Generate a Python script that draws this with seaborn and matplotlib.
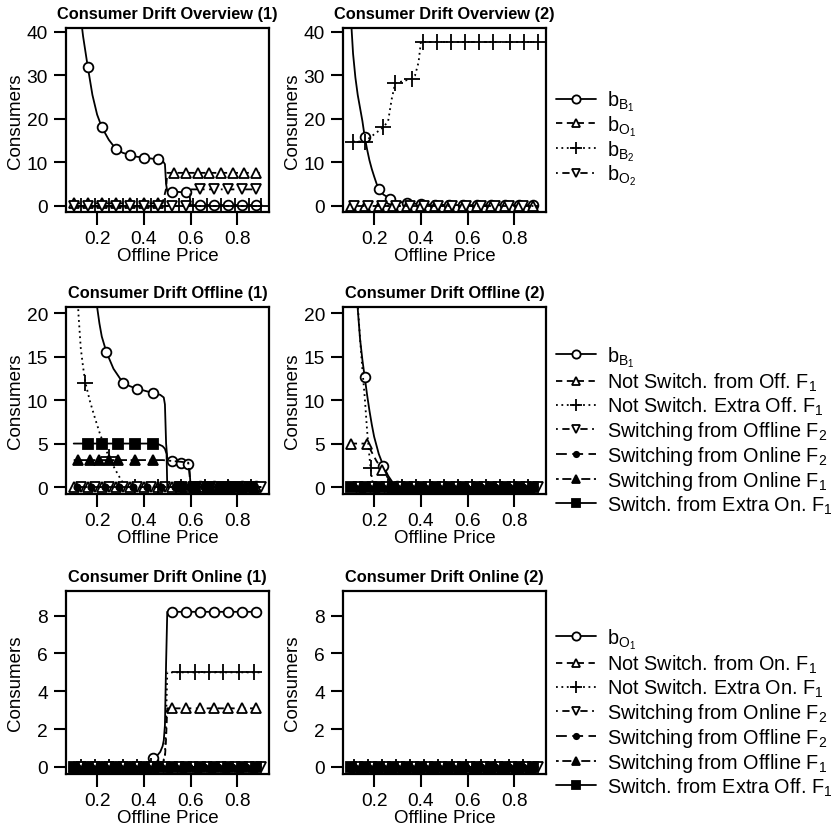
import matplotlib
matplotlib.use('Agg')
import matplotlib.pyplot as plt
from matplotlib.lines import Line2D
import seaborn as sns

sns.set_theme(style='ticks')
plt.rcParams['font.family'] = ['Liberation Sans', 'DejaVu Sans']
plt.rcParams['mathtext.fontset'] = 'custom'
plt.rcParams['mathtext.rm'] = 'Liberation Sans'
plt.rcParams['mathtext.it'] = 'Liberation Sans:italic'
plt.rcParams['mathtext.bf'] = 'Liberation Sans:bold'
plt.rcParams['mathtext.default'] = 'regular'
plt.rcParams['text.color'] = 'black'
plt.rcParams['axes.labelcolor'] = 'black'

# ---------------- data ----------------
X_TICKS = [0.2, 0.4, 0.6, 0.8]
X_TICK_LABELS = ['0.2', '0.4', '0.6', '0.8']
Y_TICKS_OV = [0, 10, 20, 30, 40]
Y_TICKS_OF = [0, 5, 10, 15, 20]
Y_TICKS_ON = [0, 2, 4, 6, 8]

TITLES = ['Consumer Drift Overview (1)', 'Consumer Drift Overview (2)',
          'Consumer Drift Offline (1)', 'Consumer Drift Offline (2)',
          'Consumer Drift Online (1)', 'Consumer Drift Online (2)']

LEG_OV = [r'$b_{B_1}$', r'$b_{O_1}$', r'$b_{B_2}$', r'$b_{O_2}$']
LEG_OF = [r'$b_{B_1}$', r'Not Switch. from Off. F$_1$', r'Not Switch. Extra Off. F$_1$',
          r'Switching from Offline F$_2$', r'Switching from Online F$_2$',
          r'Switching from Online F$_1$', r'Switch. from Extra On. F$_1$']
LEG_ON = [r'$b_{O_1}$', r'Not Switch. from On. F$_1$', r'Not Switch. Extra On. F$_1$',
          r'Switching from Online F$_2$', r'Switching from Offline F$_2$',
          r'Switching from Offline F$_1$', r'Switch. from Extra Off. F$_1$']

# zero-level series grids
ZX_A = [0.10, 0.16, 0.22, 0.28, 0.34, 0.40, 0.46, 0.52, 0.58, 0.64, 0.70, 0.76, 0.82, 0.88, 0.90]
ZX_B = [0.10, 0.13, 0.19, 0.25, 0.31, 0.37, 0.43, 0.49, 0.55, 0.61, 0.67, 0.73, 0.79, 0.85, 0.90]
ZX_C = [0.10, 0.115, 0.175, 0.235, 0.295, 0.355, 0.415, 0.475, 0.535, 0.595, 0.655, 0.715, 0.775, 0.835, 0.90]
ZX_D = [0.10, 0.145, 0.205, 0.265, 0.325, 0.385, 0.445, 0.505, 0.565, 0.625, 0.685, 0.745, 0.805, 0.865, 0.90]
ZY = [0.0, 0.0, 0.0, 0.0, 0.0, 0.0, 0.0, 0.0, 0.0, 0.0, 0.0, 0.0, 0.0, 0.0, 0.0]
ZM_A = [0.10, 0.16, 0.22, 0.28, 0.34, 0.40, 0.46, 0.52, 0.58, 0.64, 0.70, 0.76, 0.82, 0.88]
ZM_B = [0.13, 0.19, 0.25, 0.31, 0.37, 0.43, 0.49, 0.55, 0.61, 0.67, 0.73, 0.79, 0.85, 0.90]
ZM_C = [0.115, 0.175, 0.235, 0.295, 0.355, 0.415, 0.475, 0.535, 0.595, 0.655, 0.715, 0.775, 0.835]
ZM_D = [0.145, 0.205, 0.265, 0.325, 0.385, 0.445, 0.505, 0.565, 0.625, 0.685, 0.745, 0.805, 0.865]

# Overview (1)
OV1_BB1_X = [0.10, 0.12, 0.14, 0.16, 0.18, 0.20, 0.22, 0.25, 0.28, 0.31, 0.34, 0.37, 0.40, 0.43, 0.46,
             0.48, 0.49, 0.495, 0.50, 0.52, 0.55, 0.58, 0.595, 0.60, 0.64, 0.70, 0.76, 0.82, 0.88, 0.90]
OV1_BB1_Y = [62, 48, 39, 32, 25.5, 21, 18.1, 15.2, 13.1, 12.2, 11.7, 11.3, 11.1, 10.9, 10.7,
             10.4, 9.6, 5.0, 3.4, 3.3, 3.2, 3.1, 2.8, 0.2, 0.2, 0.2, 0.2, 0.2, 0.2, 0.2]
OV1_BB1_M = [0.16, 0.22, 0.28, 0.34, 0.40, 0.46, 0.52, 0.58, 0.64, 0.70, 0.76, 0.82, 0.88]

OV1_BO1_X = [0.10, 0.16, 0.22, 0.28, 0.34, 0.40, 0.46, 0.48, 0.495, 0.50, 0.53, 0.58, 0.63, 0.68,
             0.73, 0.78, 0.83, 0.88, 0.90]
OV1_BO1_Y = [0.6, 0.6, 0.6, 0.6, 0.6, 0.6, 0.6, 0.6, 4.0, 7.6, 7.6, 7.6, 7.6, 7.6,
             7.6, 7.6, 7.6, 7.6, 7.6]
OV1_BO1_M = [0.10, 0.16, 0.22, 0.28, 0.34, 0.40, 0.46, 0.53, 0.58, 0.63, 0.68, 0.73, 0.78, 0.83, 0.88]

OV1_BO2_X = [0.10, 0.16, 0.22, 0.28, 0.34, 0.40, 0.46, 0.52, 0.58, 0.595, 0.60, 0.64, 0.70, 0.76,
             0.82, 0.88, 0.89]
OV1_BO2_Y = [0, 0, 0, 0, 0, 0, 0, 0, 0, 0, 3.8, 3.8, 3.8, 3.8, 3.8, 3.8, 3.8]
OV1_BO2_M = [0.10, 0.16, 0.22, 0.28, 0.34, 0.40, 0.46, 0.52, 0.58, 0.64, 0.70, 0.76, 0.82, 0.88]

# Overview (2)
OV2_BB1_X = [0.10, 0.11, 0.12, 0.13, 0.14, 0.15, 0.16, 0.17, 0.18, 0.19, 0.20, 0.21, 0.22, 0.24,
             0.27, 0.30, 0.34, 0.40, 0.46, 0.52, 0.58, 0.64, 0.70, 0.76, 0.82, 0.88, 0.90]
OV2_BB1_Y = [44, 35, 29.5, 25.5, 22.5, 19.5, 15.8, 13, 10.5, 8.5, 6.8, 5.2, 3.8, 2.6,
             1.6, 1.0, 0.6, 0.4, 0.3, 0.2, 0.2, 0.2, 0.2, 0.2, 0.2, 0.2, 0.2]
OV2_BB1_M = [0.16, 0.22, 0.27, 0.34, 0.40, 0.46, 0.52, 0.58, 0.64, 0.70, 0.76, 0.82, 0.88]

OV2_BB2_X = [0.11, 0.16, 0.24, 0.26, 0.275, 0.29, 0.36, 0.375, 0.39, 0.40, 0.41, 0.47, 0.53, 0.59,
             0.65, 0.71, 0.78, 0.84, 0.90]
OV2_BB2_Y = [14.8, 14.8, 18.1, 19.5, 24.5, 28.2, 29.2, 30.0, 33.0, 37.7, 37.7, 37.7, 37.7, 37.7,
             37.7, 37.7, 37.7, 37.7, 37.7]
OV2_BB2_M = [0.11, 0.16, 0.24, 0.29, 0.36, 0.41, 0.47, 0.53, 0.59, 0.65, 0.71, 0.78, 0.84, 0.90]

# Offline (1)
OF1_BB1_X = [0.10, 0.14, 0.17, 0.19, 0.20, 0.21, 0.22, 0.24, 0.27, 0.31, 0.34, 0.37, 0.40, 0.44,
             0.47, 0.485, 0.49, 0.495, 0.50, 0.52, 0.56, 0.59, 0.595, 0.60, 0.64, 0.70, 0.76,
             0.82, 0.88, 0.90]
OF1_BB1_Y = [62, 39, 28, 23, 20.7, 18.8, 17.3, 15.5, 13.6, 12.0, 11.6, 11.3, 11.1, 10.8,
             10.6, 10.3, 9.5, 5.0, 3.3, 3.0, 2.8, 2.6, 2.0, 0.1, 0.1, 0.1, 0.1,
             0.1, 0.1, 0.1]
OF1_BB1_M = [0.24, 0.31, 0.37, 0.44, 0.52, 0.56, 0.59, 0.64, 0.70, 0.76, 0.82, 0.88]

OF1_NSE_X = [0.10, 0.11, 0.12, 0.13, 0.14, 0.15, 0.17, 0.19, 0.21, 0.23, 0.25, 0.27, 0.29, 0.31,
             0.33, 0.36, 0.46, 0.56, 0.66, 0.76, 0.86, 0.90]
OF1_NSE_Y = [36, 27, 20, 16, 13.8, 12, 9.8, 8, 6.3, 4.8, 3.5, 2.4, 1.4, 0.5,
             0.05, 0, 0, 0, 0, 0, 0, 0]
OF1_NSE_M = [0.15, 0.25, 0.36, 0.46, 0.56, 0.66, 0.76, 0.86]

OF1_SON1_X = [0.10, 0.12, 0.17, 0.21, 0.25, 0.29, 0.36, 0.44, 0.48, 0.52, 0.56, 0.59, 0.595, 0.60,
              0.62, 0.67, 0.72, 0.77, 0.82, 0.87, 0.90]
OF1_SON1_Y = [3.1, 3.1, 3.1, 3.1, 3.1, 3.1, 3.1, 3.1, 3.1, 3.0, 2.9, 2.8, 1.5, 0,
              0, 0, 0, 0, 0, 0, 0]
OF1_SON1_M = [0.12, 0.17, 0.21, 0.25, 0.29, 0.36, 0.44, 0.62, 0.67, 0.72, 0.77, 0.82, 0.87]

OF1_SEX_X = [0.10, 0.16, 0.22, 0.29, 0.36, 0.44, 0.46, 0.48, 0.49, 0.497, 0.50, 0.56, 0.62, 0.68,
             0.74, 0.80, 0.86, 0.90]
OF1_SEX_Y = [5.0, 5.0, 5.0, 5.0, 5.0, 5.0, 4.95, 4.7, 4.4, 3.8, 0, 0, 0, 0,
             0, 0, 0, 0]
OF1_SEX_M = [0.16, 0.22, 0.29, 0.36, 0.44, 0.56, 0.62, 0.68, 0.74, 0.80, 0.86]

# Offline (2)
OF2_BB1_X = [0.10, 0.11, 0.12, 0.13, 0.14, 0.15, 0.16, 0.17, 0.18, 0.19, 0.20, 0.22, 0.24, 0.26,
             0.28, 0.30, 0.36, 0.42, 0.48, 0.54, 0.60, 0.66, 0.72, 0.78, 0.84, 0.90]
OF2_BB1_Y = [40, 32, 25, 20.5, 17, 14.6, 12.6, 10.6, 8.8, 7.2, 5.8, 3.8, 2.4, 1.3,
             0.5, 0.1, 0, 0, 0, 0, 0, 0, 0, 0, 0, 0]
OF2_BB1_M = [0.16, 0.24, 0.30, 0.36, 0.42, 0.48, 0.54, 0.60, 0.66, 0.72, 0.78, 0.84]

OF2_NSO_X = [0.10, 0.17, 0.19, 0.21, 0.235, 0.26, 0.28, 0.30, 0.36, 0.42, 0.48, 0.54, 0.60, 0.66,
             0.72, 0.78, 0.84, 0.90]
OF2_NSO_Y = [5.0, 5.0, 4.0, 3.0, 2.0, 1.0, 0.35, 0.05, 0, 0, 0, 0, 0, 0,
             0, 0, 0, 0]
OF2_NSO_M = [0.10, 0.17, 0.235, 0.30, 0.36, 0.42, 0.48, 0.54, 0.60, 0.66, 0.72, 0.78, 0.84]

OF2_NSE_X = [0.10, 0.11, 0.12, 0.13, 0.14, 0.15, 0.16, 0.17, 0.18, 0.185, 0.19, 0.195, 0.20, 0.26,
             0.32, 0.38, 0.44, 0.50, 0.56, 0.62, 0.68, 0.74, 0.80, 0.86, 0.90]
OF2_NSE_Y = [48, 36, 28, 21, 17, 13.5, 10.3, 6.5, 3.5, 2.2, 1.1, 0.3, 0, 0,
             0, 0, 0, 0, 0, 0, 0, 0, 0, 0, 0]
OF2_NSE_M = [0.185, 0.26, 0.32, 0.38, 0.44, 0.50, 0.56, 0.62, 0.68, 0.74, 0.80, 0.86]

# Online (1)
ON1_BO1_X = [0.10, 0.16, 0.22, 0.28, 0.34, 0.40, 0.42, 0.44, 0.46, 0.47, 0.48, 0.485, 0.49, 0.495,
             0.50, 0.52, 0.58, 0.64, 0.70, 0.76, 0.82, 0.88, 0.90]
ON1_BO1_Y = [0, 0, 0, 0, 0.02, 0.1, 0.2, 0.5, 0.65, 0.8, 1.1, 1.4, 2.2, 5.5,
             8.2, 8.2, 8.2, 8.2, 8.2, 8.2, 8.2, 8.2, 8.2]
ON1_BO1_M = [0.10, 0.16, 0.22, 0.28, 0.34, 0.44, 0.52, 0.58, 0.64, 0.70, 0.76, 0.82, 0.88]

ON1_NSO_X = [0.10, 0.16, 0.22, 0.28, 0.34, 0.40, 0.46, 0.48, 0.49, 0.495, 0.50, 0.52, 0.58, 0.64,
             0.70, 0.76, 0.82, 0.88, 0.90]
ON1_NSO_Y = [0, 0, 0, 0, 0, 0, 0.1, 0.2, 0.5, 1.5, 3.1, 3.1, 3.1, 3.1,
             3.1, 3.1, 3.1, 3.1, 3.1]
ON1_NSO_M = [0.10, 0.16, 0.22, 0.28, 0.34, 0.40, 0.46, 0.52, 0.58, 0.64, 0.70, 0.76, 0.82, 0.88]

ON1_NSE_X = [0.10, 0.13, 0.19, 0.25, 0.31, 0.37, 0.43, 0.48, 0.49, 0.495, 0.50, 0.556, 0.62, 0.68,
             0.74, 0.805, 0.87, 0.90]
ON1_NSE_Y = [0, 0, 0, 0, 0, 0, 0.05, 0.2, 0.6, 2.5, 5.0, 5.0, 5.0, 5.0,
             5.0, 5.0, 5.0, 5.0]
ON1_NSE_M = [0.13, 0.19, 0.25, 0.31, 0.37, 0.43, 0.556, 0.62, 0.68, 0.74, 0.805, 0.87]

# ---------------- styles ----------------
STYLES = {
    'circ': dict(linestyle='-', marker='o', markerfacecolor='white', markersize=7),
    'tri': dict(linestyle=(0, (3.5, 2.5)), marker='^', markerfacecolor='white', markersize=7.5),
    'plus': dict(linestyle=(0, (1, 2.0)), marker='+', markersize=11),
    'dtri': dict(linestyle=(0, (1, 2.5, 4, 2.5)), marker='v', markerfacecolor='white', markersize=7.5),
    'dot': dict(linestyle=(0, (6, 3)), marker='o', markerfacecolor='black', markersize=4.5),
    'ftri': dict(linestyle=(0, (1.5, 2, 5, 2)), marker='^', markerfacecolor='black', markersize=7.5),
    'sq': dict(linestyle='-', marker='s', markerfacecolor='black', markersize=6.5),
}
ORDER = ['circ', 'tri', 'plus', 'dtri', 'dot', 'ftri', 'sq']

PANELS = [
    [(OV1_BB1_X, OV1_BB1_Y, OV1_BB1_M, 'circ'), (OV1_BO1_X, OV1_BO1_Y, OV1_BO1_M, 'tri'),
     (ZX_B, ZY, ZM_B, 'plus'), (OV1_BO2_X, OV1_BO2_Y, OV1_BO2_M, 'dtri')],
    [(OV2_BB1_X, OV2_BB1_Y, OV2_BB1_M, 'circ'), (ZX_A, ZY, ZM_A, 'tri'),
     (OV2_BB2_X, OV2_BB2_Y, OV2_BB2_M, 'plus'), (ZX_C, ZY, ZM_C, 'dtri')],
    [(OF1_BB1_X, OF1_BB1_Y, OF1_BB1_M, 'circ'), (ZX_A, ZY, ZM_A, 'tri'),
     (OF1_NSE_X, OF1_NSE_Y, OF1_NSE_M, 'plus'), (ZX_B, ZY, ZM_B, 'dtri'),
     (ZX_C, ZY, ZM_C, 'dot'), (OF1_SON1_X, OF1_SON1_Y, OF1_SON1_M, 'ftri'),
     (OF1_SEX_X, OF1_SEX_Y, OF1_SEX_M, 'sq')],
    [(OF2_BB1_X, OF2_BB1_Y, OF2_BB1_M, 'circ'), (OF2_NSO_X, OF2_NSO_Y, OF2_NSO_M, 'tri'),
     (OF2_NSE_X, OF2_NSE_Y, OF2_NSE_M, 'plus'), (ZX_B, ZY, ZM_B, 'dtri'),
     (ZX_C, ZY, ZM_C, 'dot'), (ZX_D, ZY, ZM_D, 'ftri'), (ZX_A, ZY, ZM_A, 'sq')],
    [(ON1_BO1_X, ON1_BO1_Y, ON1_BO1_M, 'circ'), (ON1_NSO_X, ON1_NSO_Y, ON1_NSO_M, 'tri'),
     (ON1_NSE_X, ON1_NSE_Y, ON1_NSE_M, 'plus'), (ZX_B, ZY, ZM_B, 'dtri'),
     (ZX_C, ZY, ZM_C, 'dot'), (ZX_D, ZY, ZM_D, 'ftri'), (ZX_A, ZY, ZM_A, 'sq')],
    [(ZX_A, ZY, ZM_A, 'circ'), (ZX_D, ZY, ZM_D, 'tri'), (ZX_C, ZY, ZM_C, 'plus'),
     (ZX_B, ZY, ZM_B, 'dtri'), (ZX_C, ZY, ZM_C, 'dot'), (ZX_D, ZY, ZM_D, 'ftri'),
     (ZX_A, ZY, ZM_A, 'sq')],
]

YLIMS = [(-1.4, 40.9), (-1.4, 40.9), (-0.8, 20.7), (-0.8, 20.7), (-0.37, 9.3), (-0.37, 9.3)]
YTICKS = [Y_TICKS_OV, Y_TICKS_OV, Y_TICKS_OF, Y_TICKS_OF, Y_TICKS_ON, Y_TICKS_ON]

W, H = 835, 837
fig = plt.figure(figsize=(W / 100, H / 100), dpi=100)
fig.patch.set_facecolor('white')

LEFTS = [66, 343]
ROWS = [(29, 213), (308, 495), (592, 775)]

LW = 1.3
MEW = 1.3


def draw_series(ax, xs, ys, ms, key):
    idx = [i for i, v in enumerate(xs) if any(abs(v - m) < 1e-9 for m in ms)]
    st = dict(STYLES[key])
    sns.lineplot(x=xs, y=ys, ax=ax, color='black', linewidth=LW, sort=False,
                 estimator=None, markevery=idx, markeredgecolor='black',
                 markeredgewidth=MEW, **st)


for k in range(6):
    r, c = divmod(k, 2)
    top, bot = ROWS[r]
    left = LEFTS[c]
    ax = fig.add_axes([left / W, 1 - bot / H, 203 / W, (bot - top) / H])
    ax.set_facecolor('white')
    for xs, ys, ms, key in PANELS[k]:
        draw_series(ax, xs, ys, ms, key)
    ax.set_xlim(0.067, 0.935)
    ax.set_ylim(*YLIMS[k])
    ax.set_xticks(X_TICKS)
    ax.set_xticklabels(X_TICK_LABELS)
    ax.set_yticks(YTICKS[k])
    ax.set_yticklabels([str(v) for v in YTICKS[k]])
    for sp in ax.spines.values():
        sp.set_visible(True)
        sp.set_color('black')
        sp.set_linewidth(1.6)
    ax.tick_params(axis='both', direction='out', length=9, width=1.5, color='black',
                   labelsize=13.8, labelcolor='black', pad=4, bottom=True, left=True)
    ax.set_xlabel('Offline Price', fontsize=13.5, color='black', labelpad=0)
    ax.set_ylabel('Consumers', fontsize=13.5, color='black')
    ax.yaxis.set_label_coords(-0.205, 0.5)
    ax.set_title(TITLES[k], fontsize=11.8, fontweight='bold', color='black', pad=7)

# legends
LEGENDS = [(LEG_OV, 139, 0.0), (LEG_OF, 431, 0.09), (LEG_ON, 713, 0.09)]
for labels, yc, spacing in LEGENDS:
    handles = []
    for i, lab in enumerate(labels):
        st = dict(STYLES[ORDER[i]])
        st['markersize'] = st['markersize'] * 0.85
        handles.append(Line2D([], [], color='black', linewidth=LW, markeredgecolor='black',
                              markeredgewidth=MEW, **st))
    leg = fig.legend(handles, labels, loc='center left', bbox_to_anchor=(556 / W, 1 - yc / H),
                     frameon=False, fontsize=14.3, handlelength=2.0, handletextpad=0.55,
                     labelspacing=spacing, borderpad=0, borderaxespad=0, numpoints=1)
    for t in leg.get_texts():
        t.set_color('black')

fig.savefig('out.png', dpi=100, facecolor='white')
